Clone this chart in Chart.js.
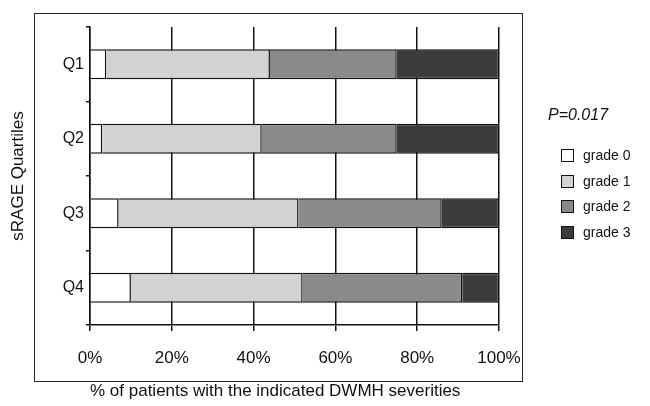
<!DOCTYPE html>
<html lang="en">
<head>
  <meta charset="UTF-8">
  <title>sRAGE Quartiles vs DWMH severity</title>
  <script src="https://cdn.jsdelivr.net/npm/chart.js@4"></script>
  <style>
    * { margin: 0; padding: 0; box-sizing: border-box; }
    body { width: 650px; height: 406px; background: #fff; position: relative; overflow: hidden; font-family: 'Liberation Sans', Arial, sans-serif; color: #111; }
    #frame { position: absolute; left: 34px; top: 13px; width: 489px; height: 369px; border: 1.5px solid #222; }
    #wrap { position: absolute; left: 0; top: 0; width: 650px; height: 406px; }
    .pval { position: absolute; left: 548px; top: 106px; font-size: 16px; font-style: italic; }
    .leg { position: absolute; left: 561px; font-size: 14px; line-height: 16px; white-space: nowrap; }
    .leg i { display: inline-block; width: 13px; height: 13px; border: 1.5px solid #111; vertical-align: -2px; margin-right: 9px; }
  </style>
</head>
<body>
  <div id="frame"></div>
  <div id="wrap"><canvas id="chart" width="650" height="406"></canvas></div>
  <div class="pval">P=0.017</div>
  <div id="legend"></div>

  <script>
    const quartiles = ['Q1', 'Q2', 'Q3', 'Q4'];
    const grades = ['grade 0', 'grade 1', 'grade 2', 'grade 3'];
    const grade0 = [4, 3, 7, 10];
    const grade1 = [40, 39, 44, 42];
    const grade2 = [31, 33, 35, 39];
    const grade3 = [25, 25, 14, 9];
    const xTicks = [0, 20, 40, 60, 80, 100];

    const fills = ['#ffffff', '#d2d2d2', '#8a8a8a', '#3c3c3c'];
    const series = [grade0, grade1, grade2, grade3];

    // legend on the right, html
    const legend = document.getElementById('legend');
    grades.forEach((g, i) => {
      const d = document.createElement('div');
      d.className = 'leg';
      d.style.top = (147 + i * 25.7) + 'px';
      d.innerHTML = `<i style="background:${fills[i]}"></i>${g}`;
      legend.appendChild(d);
    });

    const family = "'Liberation Sans', Arial, sans-serif";

    new Chart(document.getElementById('chart'), {
      type: 'bar',
      data: {
        labels: quartiles,
        datasets: series.map((vals, i) => ({
          label: grades[i],
          data: vals,
          backgroundColor: fills[i],
          borderColor: '#111',
          borderWidth: 1.5,
          borderSkipped: 'start',
          categoryPercentage: 1,
          barPercentage: 0.4
        }))
      },
      options: {
        indexAxis: 'y',
        responsive: false,
        animation: false,
        layout: { padding: { top: 27, right: 151, bottom: 0, left: 0 } },
        plugins: { legend: { display: false }, tooltip: { enabled: false } },
        scales: {
          x: {
            stacked: true,
            min: 0,
            max: 100,
            afterBuildTicks: s => { s.ticks = xTicks.map(v => ({ value: v })) },
            afterFit: s => { s.height = 81 },
            grid: { color: '#111', lineWidth: 1.5, tickLength: 6, drawOnChartArea: true },
            border: { color: '#111', width: 1.5 },
            ticks: { color: '#111', font: { family, size: 17 }, padding: 17, maxRotation: 0, callback: v => v + '%' },
            title: {
              display: true,
              align: 'start',
              text: '% of patients with the indicated DWMH severities',
              color: '#111',
              font: { family, size: 17 },
              padding: { top: 0, bottom: 4 }
            }
          },
          y: {
            stacked: true,
            afterFit: s => { s.width = 90 },
            grid: { color: '#111', lineWidth: 1.5, tickLength: 4, drawOnChartArea: false, offset: true },
            border: { color: '#111', width: 1.5 },
            ticks: { color: '#111', font: { family, size: 16 }, padding: 2 },
            title: {
              display: true,
              text: 'sRAGE Quartiles',
              color: '#111',
              font: { family, size: 17 },
              padding: { top: 8, bottom: 0 }
            }
          }
        }
      }
    });
  </script>
</body>
</html>
